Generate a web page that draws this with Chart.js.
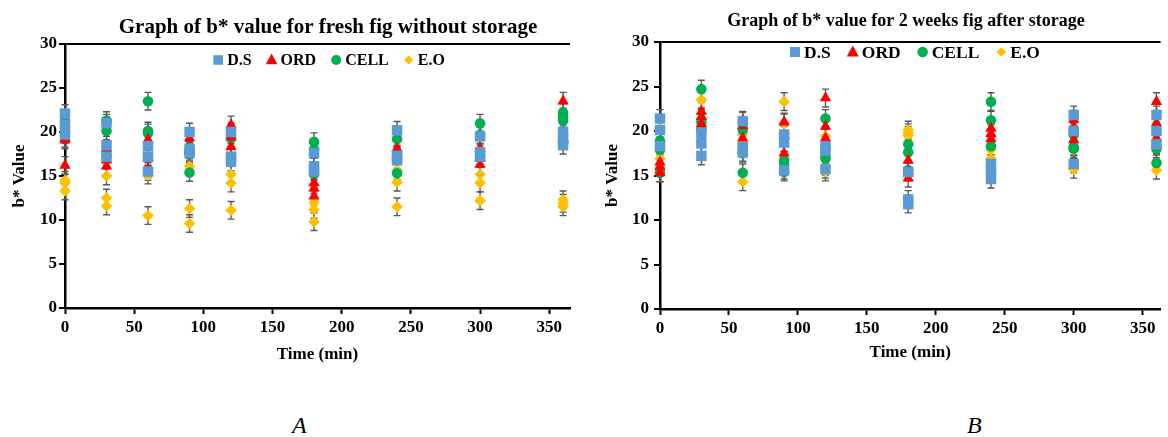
<!DOCTYPE html>
<html>
<head>
<meta charset="utf-8">
<script src="https://cdn.jsdelivr.net/npm/chart.js@4.4.1/dist/chart.umd.min.js"></script>
<style>
  html, body { margin: 0; padding: 0; background: #fff; }
  body { width: 1168px; height: 437px; position: relative; overflow: hidden; }
  #wrapA { position: absolute; left: 0; top: 0; width: 580px; height: 370px; }
  #wrapB { position: absolute; left: 590px; top: 0; width: 578px; height: 370px; }
  .cap { position: absolute; top: 413px; font: italic 24px/1 "Liberation Serif", "Times New Roman", serif; color: #000; }
</style>
</head>
<body>
<div id="wrapA"><canvas id="chartA" width="580" height="370"></canvas></div>
<div id="wrapB"><canvas id="chartB" width="578" height="370"></canvas></div>
<div class="cap" style="left:292px">A</div>
<div class="cap" style="left:967px">B</div>
<script>
// Sampling times (min)
const times = [0, 30, 60, 90, 120, 180, 240, 300, 360];
const seriesNames = ['D.S', 'ORD', 'CELL', 'E.O'];
const xTicks = [0, 50, 100, 150, 200, 250, 300, 350];
const yTicks = [0, 5, 10, 15, 20, 25, 30];

// Fresh fig, three b* readings per sampling time
const freshDS   = [[22.1, 20.8, 19.7], [21.0, 18.5, 17.2], [18.4, 17.2, 15.5], [20.0, 18.1, 17.6], [20.0, 17.2, 16.6], [17.6, 16.1, 15.5], [20.2, 17.3, 16.8], [19.5, 17.7, 17.2], [20.0, 18.5, 19.2]];
const freshORD  = [[19.1, 16.2, 19.3], [18.1, 16.1, 16.8], [19.1, 17.0, 15.8], [19.3, 18.0, 17.8], [20.8, 18.3, 19.4], [14.2, 13.6, 12.7], [18.1, 16.9, 17.4], [18.1, 16.3, 17.0], [23.5, 19.1, 19.3]];
const freshCELL = [[21.2, 20.6, 20.0], [21.3, 20.1, 17.2], [23.5, 20.1, 19.9], [18.0, 17.6, 15.4], [19.3, 19.7, 17.1], [18.9, 18.0, 15.2], [19.2, 17.5, 15.3], [21.0, 19.7, 17.2], [22.2, 21.3, 21.7]];
const freshEO   = [[14.5, 14.2, 13.3], [15.0, 12.5, 11.6], [17.2, 15.1, 10.5], [16.1, 11.3, 9.6], [15.2, 14.2, 11.1], [12.0, 11.2, 9.8], [15.6, 14.3, 11.5], [15.2, 14.2, 12.2], [12.3, 11.5, 11.9]];

// Fig after 2 weeks of storage
const storedDS   = [[21.4, 20.1, 18.3], [19.8, 18.6, 17.2], [21.1, 18.2, 17.6], [19.6, 18.7, 15.6], [18.3, 17.8, 15.7], [15.4, 12.3, 11.8], [16.3, 15.5, 14.6], [21.8, 20.0, 16.3], [21.8, 20.0, 18.5]];
const storedORD  = [[16.0, 15.3, 16.5], [22.2, 21.6, 20.8], [21.2, 20.6, 19.2], [21.0, 17.5, 19.5], [23.7, 20.5, 19.2], [16.7, 14.7, 15.5], [20.3, 19.7, 19.1], [21.3, 19.0, 20.4], [23.3, 20.9, 19.2]];
const storedCELL = [[18.9, 17.9, 15.3], [24.7, 21.0, 20.1], [20.1, 17.5, 15.3], [16.7, 16.2, 15.4], [21.4, 17.3, 16.9], [18.5, 17.6, 15.6], [23.3, 21.2, 18.3], [19.6, 18.0, 18.2], [18.0, 16.4, 18.3]];
const storedEO   = [[20.3, 16.9, 15.9], [23.5, 21.4, 20.5], [19.6, 18.6, 14.3], [23.3, 20.9, 19.7], [19.4, 16.0, 15.4], [20.1, 19.8, 19.5], [17.9, 16.9, 15.5], [19.9, 17.9, 15.7], [19.9, 19.0, 15.6]];

// Half-length of each error bar (b* units)
const freshErr = [1.0, 1.0, 1.0, 1.0];
const storedErr = [1.0, 1.0, 1.0, 1.0];

const FONT = '"Liberation Serif", "Times New Roman", serif';
Chart.defaults.font.family = FONT;
Chart.defaults.font.weight = 'bold';
Chart.defaults.color = '#000';

const styles = [
  { color: '#5B9BD5', pointStyle: 'rect',    radius: 7.4 },
  { color: '#FF0000', pointStyle: 'triangle', radius: 6.6 },
  { color: '#00B050', pointStyle: 'circle',  radius: 5.3 },
  { color: '#FFC000', pointStyle: 'rectRot', radius: 5.8 }
];

function toPoints(rows, err) {
  const pts = [];
  rows.forEach((vals, i) => vals.forEach(v => pts.push({ x: times[i], y: v, err })));
  return pts;
}

function buildDatasets(groups, errs) {
  return groups.map((rows, k) => ({
    label: seriesNames[k],
    data: toPoints(rows, errs[k]),
    pointStyle: styles[k].pointStyle,
    pointRadius: styles[k].radius,
    pointHoverRadius: styles[k].radius,
    backgroundColor: styles[k].color,
    borderColor: styles[k].color,
    pointBorderWidth: 0,
    showLine: false,
    clip: false
  }));
}

// Vertical error bars with caps, drawn underneath the markers
const errorBars = {
  id: 'errorBars',
  beforeDatasetsDraw(chart, args, o) {
    const { ctx } = chart;
    const xs = chart.scales.x, ys = chart.scales.y;
    ctx.save();
    ctx.strokeStyle = o.color;
    ctx.lineWidth = o.width;
    chart.data.datasets.forEach(ds => ds.data.forEach(p => {
      const px = xs.getPixelForValue(p.x);
      const t = ys.getPixelForValue(p.y + p.err);
      const b = ys.getPixelForValue(p.y - p.err);
      ctx.beginPath();
      ctx.moveTo(px, t); ctx.lineTo(px, b);
      ctx.moveTo(px - o.cap, t); ctx.lineTo(px + o.cap, t);
      ctx.moveTo(px - o.cap, b); ctx.lineTo(px + o.cap, b);
      ctx.stroke();
    }));
    ctx.restore();
  }
};

function drawMarker(ctx, style, x, y, r) {
  ctx.beginPath();
  if (style === 'rect') {
    ctx.rect(x - r, y - r, 2 * r, 2 * r);
  } else if (style === 'triangle') {
    ctx.moveTo(x, y - r * 1.1);
    ctx.lineTo(x + r, y + r * 0.75);
    ctx.lineTo(x - r, y + r * 0.75);
    ctx.closePath();
  } else if (style === 'circle') {
    ctx.arc(x, y, r, 0, Math.PI * 2);
  } else {
    ctx.moveTo(x, y - r); ctx.lineTo(x + r, y); ctx.lineTo(x, y + r); ctx.lineTo(x - r, y);
    ctx.closePath();
  }
  ctx.fill();
}

// Chart heading plus a single-row legend placed inside the plot area
const headingLegend = {
  id: 'headingLegend',
  afterDraw(chart, args, o) {
    const { ctx } = chart;
    ctx.save();
    ctx.fillStyle = '#000';
    ctx.textAlign = 'center';
    ctx.textBaseline = 'middle';
    ctx.font = `bold ${o.titleSize}px ${FONT}`;
    ctx.fillText(o.title, o.titleX, o.titleY);

    ctx.font = `bold ${o.size}px ${FONT}`;
    ctx.textAlign = 'left';
    const items = chart.data.datasets.map((ds, k) => ({ ds, k, w: ctx.measureText(ds.label).width }));
    const total = items.reduce((s, it) => s + o.box + o.gap + it.w, 0) + o.spacing * (items.length - 1);
    let x = o.cx - total / 2;
    items.forEach(it => {
      ctx.fillStyle = styles[it.k].color;
      drawMarker(ctx, styles[it.k].pointStyle, x + o.box / 2, o.cy, o.marker[it.k]);
      ctx.fillStyle = '#000';
      ctx.fillText(it.ds.label, x + o.box + o.gap, o.cy + 1);
      x += o.box + o.gap + it.w + o.spacing;
    });
    ctx.restore();
  }
};

function makeChart(id, groups, errs, cfg) {
  return new Chart(document.getElementById(id), {
    type: 'scatter',
    data: { datasets: buildDatasets(groups, errs) },
    plugins: [errorBars, headingLegend],
    options: {
      responsive: false,
      animation: false,
      events: [],
      layout: { padding: { top: cfg.top, right: cfg.right, left: 0, bottom: 0 } },
      plugins: {
        legend: { display: false },
        tooltip: { enabled: false },
        title: { display: false },
        errorBars: { color: '#595959', width: 1.4, cap: 3.5 },
        headingLegend: cfg.legend
      },
      scales: {
        x: {
          type: 'linear', min: 0, max: cfg.xMax,
          afterBuildTicks: s => { s.ticks = xTicks.map(v => ({ value: v })); },
          afterFit: s => { s.height = cfg.xHeight; },
          ticks: { font: { size: cfg.tickSize, weight: 'bold' }, color: '#000', padding: 3, maxRotation: 0, autoSkip: false },
          grid: { drawOnChartArea: false, drawTicks: true, tickLength: 6, tickColor: '#000', tickWidth: 2 },
          border: { display: true, color: '#000', width: 2.5 },
          title: { display: true, text: 'Time (min)', font: { size: 17, weight: 'bold' }, color: '#000', padding: { top: 0, bottom: cfg.xTitlePad } }
        },
        y: {
          min: 0, max: 30,
          afterBuildTicks: s => { s.ticks = yTicks.map(v => ({ value: v })); },
          afterFit: s => { s.width = cfg.yWidth; },
          ticks: { font: { size: cfg.tickSize, weight: 'bold' }, color: '#000', padding: cfg.yTickPad },
          grid: {
            color: c => (c.tick && c.tick.value === 30 ? '#000' : 'rgba(0,0,0,0)'),
            lineWidth: 2, drawTicks: true, tickLength: 6, tickColor: '#000', tickWidth: 2
          },
          border: { display: true, color: '#000', width: 2.5 },
          title: { display: true, text: 'b* Value', font: { size: 17, weight: 'bold' }, color: '#000', padding: { top: cfg.yTitlePad, bottom: 0 } }
        }
      }
    }
  });
}

makeChart('chartA', [freshDS, freshORD, freshCELL, freshEO], freshErr, {
  top: 44, right: 10, xMax: 365, xHeight: 62, yWidth: 65, tickSize: 17,
  xTitlePad: 5, yTitlePad: 9, yTickPad: 2,
  legend: {
    title: 'Graph of b* value for fresh fig without storage', titleSize: 21, titleX: 328, titleY: 28,
    size: 16, cx: 329, cy: 60, box: 10, gap: 4, spacing: 15, marker: [4.8, 5.8, 5.0, 4.6]
  }
});

makeChart('chartB', [storedDS, storedORD, storedCELL, storedEO], storedErr, {
  top: 42, right: 0, xMax: 363, xHeight: 61, yWidth: 70, tickSize: 17,
  xTitlePad: 7, yTitlePad: 12, yTickPad: 5,
  legend: {
    title: 'Graph of b* value for 2 weeks fig after storage', titleSize: 18, titleX: 316, titleY: 21,
    size: 17.5, cx: 325, cy: 52, box: 10, gap: 4, spacing: 17, marker: [5.0, 6.0, 5.2, 4.8]
  }
});
</script>
</body>
</html>
